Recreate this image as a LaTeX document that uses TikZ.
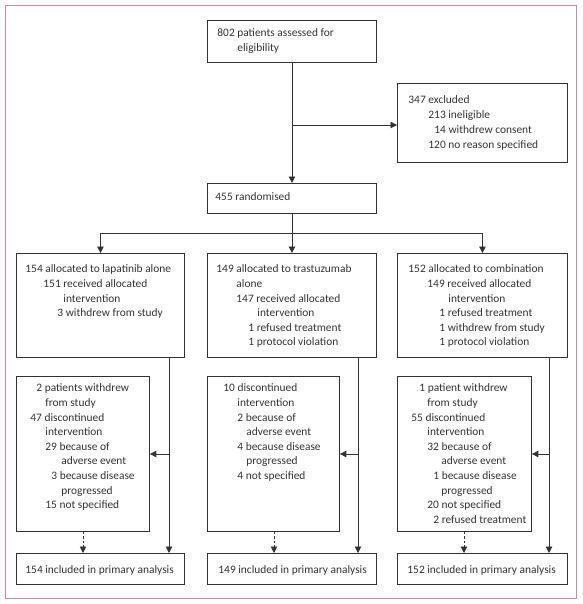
\documentclass[tikz,border=0pt]{standalone}
\usepackage{fontspec}
\setmainfont{Carlito}
\usetikzlibrary{arrows.meta}
\definecolor{framepink}{RGB}{214,132,162}
\definecolor{ink}{RGB}{50,50,50}
\newcommand{\bxt}[4]{\parbox[c][#2pt][t]{#1pt}{\fontsize{11.4}{14.6}\selectfont\def\firstht{#3pt}#4}}
\newcommand{\fl}[2]{\hbox to\hsize{\rule{0pt}{\firstht}\kern#1pt\relax#2\hfil}}
\newcommand{\nl}[2]{\hbox to\hsize{\kern#1pt\relax#2\hfil}}
\begin{document}
\begin{tikzpicture}[x=1pt,y=-1pt,
  box/.style={draw=ink,line width=0.9pt,inner sep=0pt,anchor=north west,text=ink},
  conn/.style={draw=ink,line width=0.9pt},
  arr/.style={conn,-{Triangle[length=6.5pt,width=6.5pt]}},
  darr/.style={conn,dash pattern=on 2.5pt off 2pt,-{Triangle[length=6.5pt,width=6.5pt]}}]
\useasboundingbox (0,0) rectangle (582,604);
\draw[framepink,line width=1.1pt] (5.5,5.5) rectangle (576.5,598.5);
% top
\node[box] (assess) at (207,20) {\bxt{169}{42}{16}{\fl{10}{802 patients assessed for}\nl{30}{eligibility}}};
\node[box] (excl) at (397,83) {\bxt{170}{79}{20}{\baselineskip=15pt\fl{11}{347 excluded}\nl{31}{213 ineligible}\nl{37}{14 withdrew consent}\nl{31}{120 no reason specified}}};
\node[box] (rand) at (207,183) {\bxt{169}{30}{17.5}{\fl{8}{455 randomised}}};
% row 1
\node[box] (lapa) at (16,253) {\bxt{168}{104}{19.5}{\fl{9}{154 allocated to lapatinib alone}\nl{27}{151 received allocated}\nl{47}{intervention}\nl{41}{3 withdrew from study}}};
\node[box] (tras) at (207,253) {\bxt{169}{104}{19.5}{\fl{9}{149 allocated to trastuzumab}\nl{29}{alone}\nl{29}{147 received allocated}\nl{50}{intervention}\nl{41}{1 refused treatment}\nl{41}{1 protocol violation}}};
\node[box] (comb) at (397,253) {\bxt{170}{104}{19.5}{\fl{11}{152 allocated to combination}\nl{30}{149 received allocated}\nl{51}{intervention}\nl{42}{1 refused treatment}\nl{42}{1 withdrew from study}\nl{42}{1 protocol violation}}};
% row 2
\node[box] (lapw) at (16,376) {\bxt{133}{155}{15.5}{\fl{20}{2 patients withdrew}\nl{29}{from study}\nl{14}{47 discontinued}\nl{29}{intervention}\nl{29}{29 because of}\nl{45}{adverse event}\nl{35}{3 because disease}\nl{45}{progressed}\nl{29}{15 not specified}}};
\node[box] (trasw) at (207,376) {\bxt{132}{155}{15.5}{\fl{16}{10 discontinued}\nl{30}{intervention}\nl{30}{2 because of}\nl{39}{adverse event}\nl{30}{4 because disease}\nl{39}{progressed}\nl{30}{4 not specified}}};
\node[box] (combw) at (397,376) {\bxt{134}{155}{15.5}{\fl{22}{1 patient withdrew}\nl{30}{from study}\nl{14}{55 discontinued}\nl{30}{intervention}\nl{30}{32 because of}\nl{44}{adverse event}\nl{36}{1 because disease}\nl{44}{progressed}\nl{30}{20 not specified}\nl{36}{2 refused treatment}}};
% bottom
\node[box] (lapa2) at (16,553) {\bxt{168}{31}{20.5}{\fl{9}{154 included in primary analysis}}};
\node[box] (tras2) at (207,553) {\bxt{169}{31}{20.5}{\fl{11}{149 included in primary analysis}}};
\node[box] (comb2) at (397,553) {\bxt{170}{31}{20.5}{\fl{10}{152 included in primary analysis}}};
% connectors top
\coordinate (sideoff) at (assess.south |- 0,125);
\draw[arr] (assess.south) -- (rand.north);
\draw[arr] (sideoff) -- (sideoff -| excl.west);
\coordinate (branch) at (rand.south |- 0,233);
\draw[conn] (rand.south) -- (branch);
\draw[arr] (branch) -| (lapa.north);
\draw[arr] (branch) -- (tras.north);
\draw[arr] (branch) -| (comb.north);
% columns
\foreach \a/\b/\c/\xv/\xd in {lapa/lapw/lapa2/169/83, tras/trasw/tras2/358/274, comb/combw/comb2/549/464}{
  \coordinate (\a-mid) at (\xv,454);
  \draw[arr] (\xv,0 |- \a.south) -- (\xv,0 |- \c.north);
  \draw[arr] (\a-mid) -- (\a-mid -| \b.east);
  \draw[darr] (\xd,0 |- \b.south) -- (\xd,0 |- \c.north);
}
\end{tikzpicture}
\end{document}
